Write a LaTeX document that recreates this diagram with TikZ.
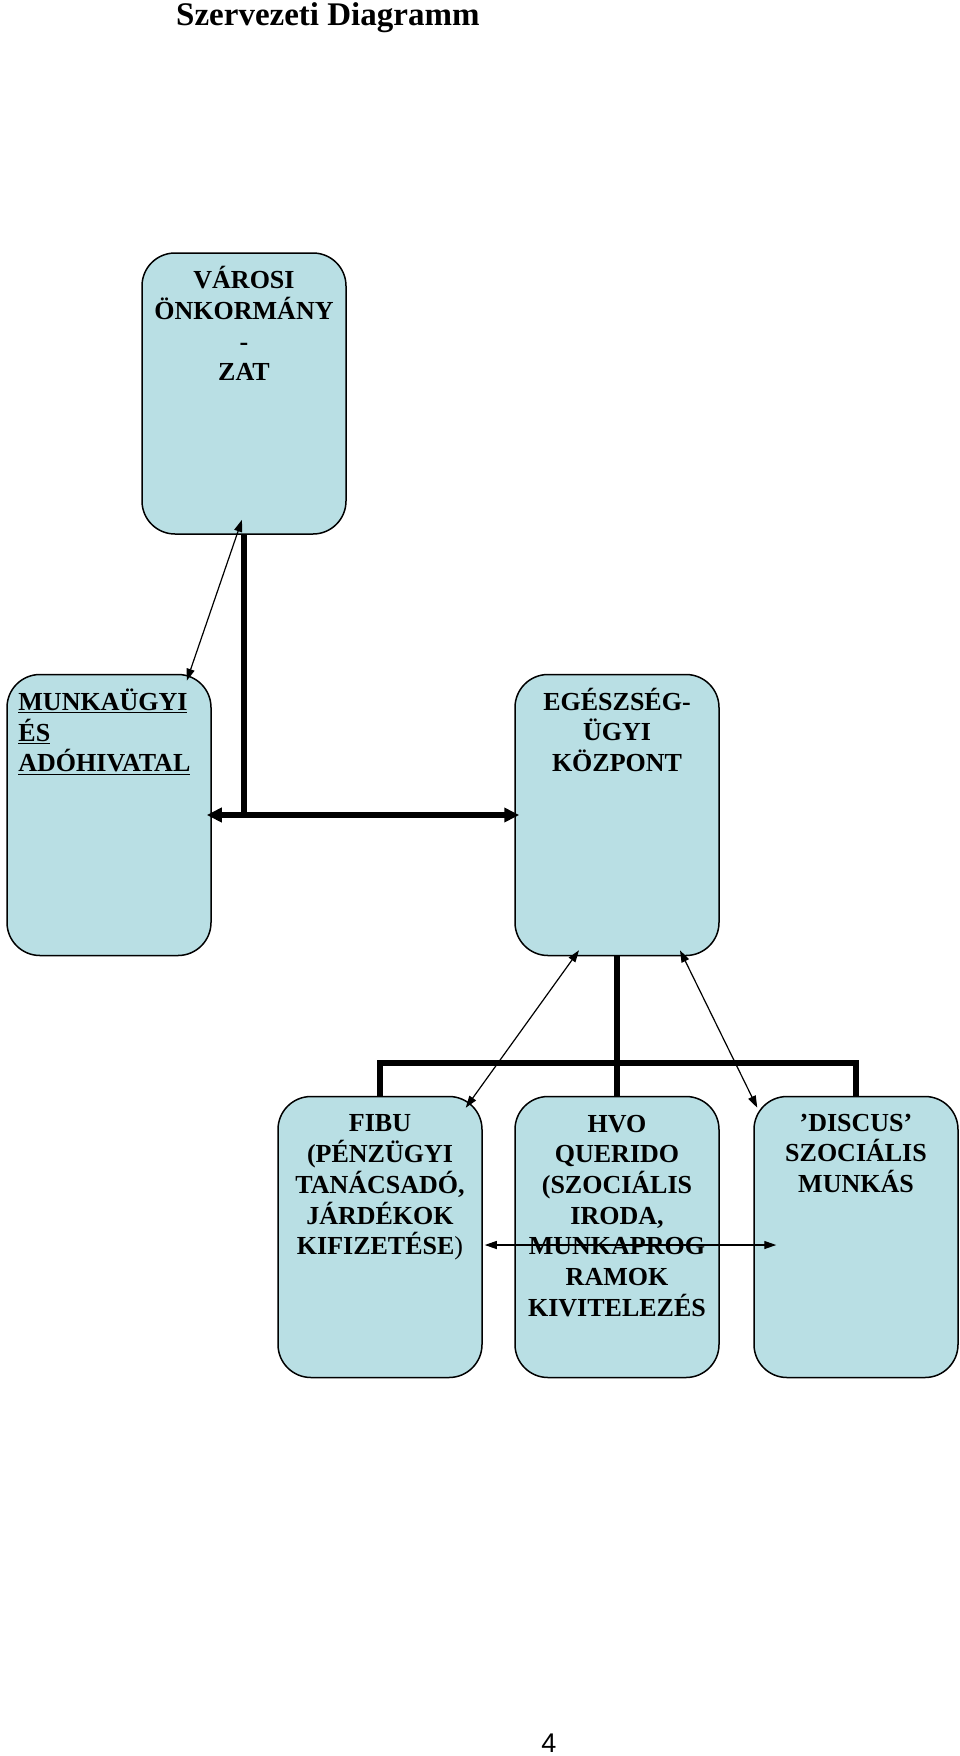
\documentclass[tikz,border=0pt]{standalone}
\usepackage{fontspec}
\setmainfont{Liberation Serif}
\newfontfamily\pagenumfont{Liberation Sans}
\usetikzlibrary{arrows.meta,positioning,calc}
\definecolor{boxfill}{RGB}{185,223,228}

\begin{document}
\begin{tikzpicture}[
        x=1pt, y=-1pt,
        unit/.style={rectangle, draw=black, fill=boxfill, line width=1.5pt, minimum width=204pt, minimum height=281pt, rounded corners=33pt, inner sep=0pt},
        boxtext/.style={align=center, inner sep=0pt, font=\fontsize{26}{30.7}\selectfont\bfseries},
        bus/.style={line width=5.5pt, line join=miter},
        busarrow/.style={line width=5.5pt, {Triangle[length=15pt,width=14pt]}-{Triangle[length=15pt,width=14pt]}, shorten <=-5pt, shorten >=-5pt},
        link/.style={line width=1.2pt, {Triangle[length=12pt,width=8pt]}-{Triangle[length=12pt,width=8pt]}}
    ]
        \useasboundingbox (0,0) rectangle (960,1756);

        % Title
        \node[font=\fontsize{33}{38}\selectfont\bfseries, anchor=base west, inner sep=0pt] (title) at (176,25) {Szervezeti Diagramm};

        % Boxes
        \node[unit] (varosi) at (244,393.5) {};
        \node[unit] (munka) at (109,815) {};
        \node[unit] (egesz) at (617,815) {};
        \node[unit] (fibu) at (380,1237) {};
        \node[unit] (hvo) at (617,1237) {};
        \node[unit] (discus) at (856,1237) {};

        % Box texts
        \node[boxtext, below=14pt of varosi.north] (varositext) {VÁROSI\\ÖNKORMÁNY\\-\\ZAT};
        \node[boxtext, align=left, anchor=north west, below right=15pt and 12pt of munka.north west] (munkatext) {\underline{MUNKAÜGYI}\\\underline{ÉS}\\\underline{ADÓHIVATAL}};
        \node[boxtext, below=14pt of egesz.north] (egesztext) {EGÉSZSÉG-\\ÜGYI\\KÖZPONT};
        \node[boxtext, below=19pt of fibu.north] (fibutext) {FIBU\\(PÉNZÜGYI\\TANÁCSADÓ,\\JÁRDÉKOK\\KIFIZETÉSE\textmd{)}};
        \node[boxtext, below=19pt of hvo.north] (hvotext) {HVO\\QUERIDO\\(SZOCIÁLIS\\IRODA,\\MUNKAPROG\\RAMOK\\KIVITELEZÉS};
        \node[boxtext, below=18pt of discus.north] (discustext) {’DISCUS’\\SZOCIÁLIS\\MUNKÁS};

        % Thick lines from the city council
        \draw[bus] (varosi.south) -- (varosi.south |- munka.east);
        \draw[busarrow] (munka.east) -- (egesz.west);

        % Thick lines from the health centre
        \coordinate (fork) at (617,1063);
        \draw[bus] (egesz.south) -- (fork);
        \draw[bus] (fibu.north) |- (fork) -| (discus.north);
        \draw[bus] (fork) -- (hvo.north);

        % Thin links
        \draw[link] ($(varosi.south)+(-2,-15)$) -- ($(munka.north east)+(-25,7)$);
        \draw[link] ($(egesz.south)+(-38,-6)$) -- ($(fibu.north east)+(-17,12)$);
        \draw[link] ($(egesz.south)+(63,-6)$) -- ($(discus.north west)+(4,12)$);
        \draw[link] ($(fibu.east)+(2,8)$) -- ($(discus.west)+(23,8)$);

        % Page number
        \node[font=\pagenumfont\fontsize{27}{30}\selectfont] (pagenum) at (549,1743) {4};

    \end{tikzpicture}
\end{document}
